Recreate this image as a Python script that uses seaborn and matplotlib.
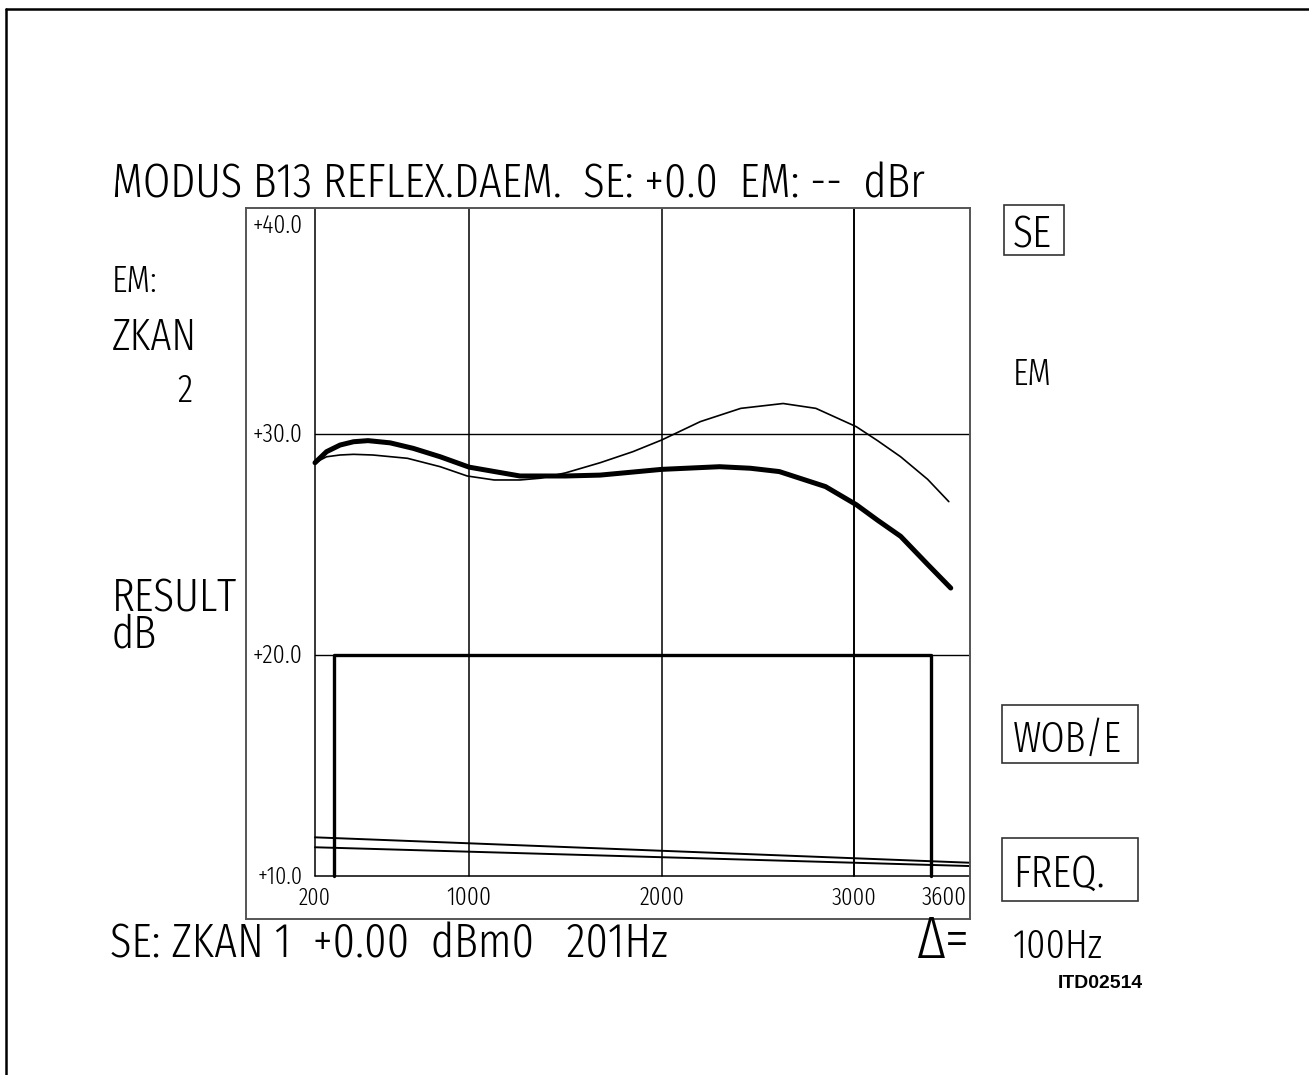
import os
import matplotlib
matplotlib.use("Agg")
import matplotlib.pyplot as plt
import matplotlib.transforms as mtransforms
from matplotlib import font_manager
from matplotlib.font_manager import FontProperties
from matplotlib.patches import Rectangle
from matplotlib.lines import Line2D
import seaborn as sns
import pandas as pd

# ---- measured response data ----
freq_em = [200, 260, 330, 400, 475, 590, 710, 850, 1000, 1264, 1500, 1680, 2000, 2300,
           2460, 2610, 2850, 3010, 3120, 3240, 3380, 3500]
gain_em = [28.7, 29.2, 29.5, 29.65, 29.7, 29.6, 29.35, 28.97, 28.5, 28.1, 28.1, 28.14, 28.4, 28.52,
           28.45, 28.3, 27.62, 26.8, 26.1, 25.37, 24.1, 23.03]

freq_se = [200, 260, 330, 400, 500, 680, 850, 990, 1130, 1264, 1370, 1500, 1680, 1850, 2000,
           2200, 2410, 2630, 2800, 3010, 3120, 3240, 3380, 3490]
gain_se = [28.7, 28.97, 29.05, 29.08, 29.05, 28.9, 28.52, 28.1, 27.92, 27.92, 28.0, 28.24, 28.7, 29.2, 29.73,
           30.56, 31.16, 31.38, 31.16, 30.33, 29.7, 28.97, 27.95, 26.94]

freq_low = [200, 3600]
gain_low_a = [11.75, 10.6]
gain_low_b = [11.3, 10.45]

# tolerance mask
mask_freq = [300, 300, 3400, 3400]
mask_gain = [10, 20, 20, 10]

x_ticks = [200, 1000, 2000, 3000, 3600]
x_tick_labels = ["200", "1000", "2000", "3000", "3600"]
y_ticks = [10, 20, 30, 40]
y_tick_labels = ["+10.0", "+20.0", "+30.0", "+40.0"]

W, H = 1309, 1075
DPI = 100

sns.set_style("white")


def _num(v, table):
    if isinstance(v, str):
        return table.get(v, 400)
    return int(v)


# narrow, thin face for the plotter lettering
def plotter_font():
    best, best_score = None, None
    for f in font_manager.fontManager.ttflist:
        base = os.path.basename(f.fname).lower()
        name = f.name.lower()
        if "mono" in name or "cjk" in name or ("serif" in name and "sans" not in name):
            continue
        if "italic" in base or "oblique" in base or f.style != "normal":
            continue
        if "extracondensed" in base:
            width_pen = 0.0
        elif "semicondensed" in base:
            width_pen = 2.0
        elif "condensed" in base or "narrow" in base or f.stretch in ("condensed", "semi-condensed"):
            width_pen = 1.0
        else:
            width_pen = 4.0
        wt = _num(f.weight, font_manager.weight_dict)
        score = width_pen + abs(wt - 300) / 100.0
        if best_score is None or score < best_score:
            best, best_score = f, score
    if best is None:
        return FontProperties(family="DejaVu Sans")
    return FontProperties(fname=best.fname)


PLOT_FP = plotter_font()
LABEL_FP = FontProperties(family=["Liberation Sans", "DejaVu Sans"], weight="bold")

fig = plt.figure(figsize=(W / DPI, H / DPI), dpi=DPI)
fig.patch.set_facecolor("white")

# pixel transform: (x, y) measured from the top-left corner of the canvas
px = mtransforms.Affine2D().scale(1, -1).translate(0, H)

# axes frame
ax_l, ax_r, ax_t, ax_b = 246, 970, 208, 919
ax = fig.add_axes([ax_l / W, 1 - ax_b / H, (ax_r - ax_l) / W, (ax_b - ax_t) / H])

sx = (970 - 315) / (3600 - 200)
sy = (876 - 655) / 10.0
ax.set_xlim(200 - (315 - ax_l) / sx, 3600)
ax.set_ylim(10 - (ax_b - 876) / sy, 10 + (876 - ax_t) / sy)
ax.set_xticks([])
ax.set_yticks([])
for s in ax.spines.values():
    s.set_color("#555555")
    s.set_linewidth(1.4)

ymax = ax.get_ylim()[1]
# inner grid
ax.plot([200, 200], [10, ymax], color="black", lw=1.1)
ax.plot([200, 3600], [10, 10], color="black", lw=1.1)
for gx in [1000, 2000, 3000]:
    ax.plot([gx, gx], [10, ymax], color="black", lw=1.1 if gx < 3000 else 1.4)
for gy in [20, 30]:
    ax.plot([200, 3600], [gy, gy], color="black", lw=1.0)

# curves
df_em = pd.DataFrame({"f": freq_em, "g": gain_em})
df_se = pd.DataFrame({"f": freq_se, "g": gain_se})
common = dict(ax=ax, color="black", sort=False, estimator=None, errorbar=None)
sns.lineplot(data=df_se, x="f", y="g", lw=1.2, **common)
sns.lineplot(data=df_em, x="f", y="g", lw=3.6, **common)
sns.lineplot(x=freq_low, y=gain_low_a, lw=1.4, **common)
sns.lineplot(x=freq_low, y=gain_low_b, lw=1.4, **common)
sns.lineplot(x=mask_freq, y=mask_gain, lw=2.4, **common)
ax.set_xlabel("")
ax.set_ylabel("")

fig.canvas.draw()
renderer = fig.canvas.get_renderer()


def fit_text(s, x, y, width, ha="left", fp=None, size=30, **kw):
    fp = (fp or PLOT_FP).copy()
    fp.set_size(size)
    t = fig.text(x, y, s, transform=px, ha=ha, va="baseline", color="black",
                 fontproperties=fp, **kw)
    for _ in range(3):
        w = t.get_window_extent(renderer).width
        if w > 0:
            t.set_fontsize(t.get_fontsize() * width / w)
    return t


# header and side labels
fit_text("MODUS B13 REFLEX.DAEM.  SE: +0.0  EM: --  dBr", 112, 197, 813)
fit_text("EM:", 112, 292, 46)
fit_text("ZKAN", 112, 350, 85)
fit_text("2", 177, 402, 15)
fit_text("RESULT\ndB", 112, 648, 125, linespacing=0.78)
fit_text("SE", 1013, 247, 39)
fit_text("EM", 1013, 385, 39)
fit_text("WOB/E", 1013, 752, 109)
fit_text("FREQ.", 1013, 887, 92)
fit_text("SE: ZKAN 1  +0.00  dBm0   201Hz", 110, 958, 558)
fit_text("\u0394=", 917, 958, 53)
fit_text("100Hz", 1013, 958, 90)
fit_text("ITD02514", 1058, 988, 85, fp=LABEL_FP)

# boxes around the softkey labels
for (bx0, by0, bx1, by1) in [(1004, 205, 1064, 255), (1002, 705, 1138, 763), (1002, 838, 1138, 901)]:
    fig.add_artist(Rectangle((bx0, by0), bx1 - bx0, by1 - by0, transform=px,
                             fill=False, edgecolor="#333333", lw=1.2))

# tick labels inside the frame
to_px = lambda xv, yv: ax.transData.transform((xv, yv))
for v, lab in zip(x_ticks, x_tick_labels):
    cx = to_px(v, 10)[0]
    w = 32 if len(lab) == 3 else 45
    if v == 3600:
        fit_text(lab, 967, 905, w, ha="right")
    else:
        fit_text(lab, cx, 905, w, ha="center")
for v, lab in zip(y_ticks, y_tick_labels):
    cy = H - to_px(200, v)[1]
    base = 233 if v == 40 else cy + 8
    fit_text(lab, 303, base, 50 if v > 10 else 45, ha="right")

# page border
ident = mtransforms.IdentityTransform()
fig.add_artist(Line2D([6, W], [H - 8.5, H - 8.5], transform=ident, color="black", lw=1.8))
fig.add_artist(Line2D([6, 6], [0, H - 8.5], transform=ident, color="black", lw=1.8))

fig.savefig("out.png", dpi=DPI, facecolor="white")
